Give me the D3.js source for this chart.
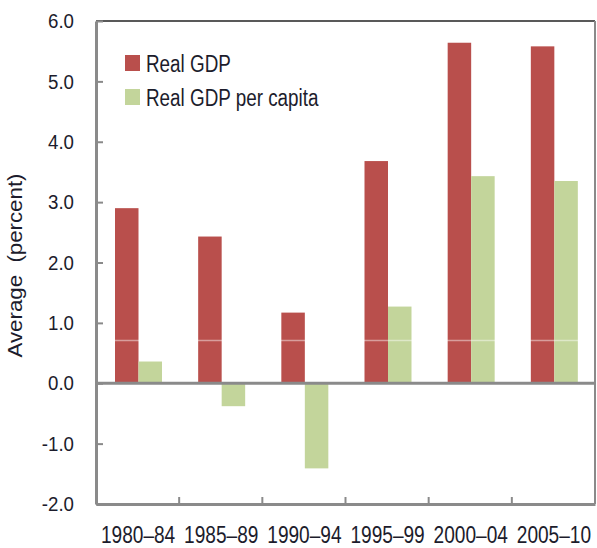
<!DOCTYPE html>
<html>
<head>
<meta charset="utf-8">
<script src="https://cdn.jsdelivr.net/npm/d3@7"></script>
<style>
  body { margin: 0; background: #fff; }
  text { font-family: "Liberation Sans", Arial, sans-serif; fill: #1c1c2c; }
</style>
</head>
<body>
<div id="chart"></div>
<script>
// data
var periods = ["1980\u201384", "1985\u201389", "1990\u201394", "1995\u201399", "2000\u201304", "2005\u201310"];
var seriesNames = ["Real GDP", "Real GDP per capita"];
var realGdp = [2.9, 2.43, 1.17, 3.68, 5.64, 5.58];
var realGdpPerCapita = [0.36, -0.38, -1.41, 1.27, 3.43, 3.35];
var yTicks = [-2, -1, 0, 1, 2, 3, 4, 5, 6];
var colors = ["#b94f4c", "#c3d59b"];

var W = 597, H = 548;
var margin = { top: 21, right: 2, bottom: 44, left: 96 },
    width = W - margin.left - margin.right,
    height = H - margin.top - margin.bottom;

// the original font is narrower than anything installed, so squeeze the text sideways
function narrow(sel, k) {
    sel.each(function () {
        var t = d3.select(this);
        var x = +t.attr("x") || 0;
        t.attr("x", 0).attr("transform", "translate(" + x + ",0) scale(" + k + ",1)");
    });
}

var svg = d3.select("#chart")
    .append("svg")
    .attr("width", W)
    .attr("height", H)
    .append("g")
    .attr("transform", "translate(" + margin.left + "," + margin.top + ")");

var x0 = d3.scaleBand().domain(periods).range([0, width]);
var x1 = d3.scaleBand().domain(seriesNames).range([19, 66]);
var y = d3.scaleLinear().domain([-2, 6]).range([height, 0]);

// table built from the arrays
var rows = periods.map(function (p, i) {
    return { period: p, values: [realGdp[i], realGdpPerCapita[i]] };
});

// bars
var groups = svg.selectAll(".grp")
    .data(rows)
    .enter()
    .append("g")
    .attr("transform", function (d) { return "translate(" + x0(d.period) + ",0)"; });

groups.selectAll("rect")
    .data(function (d) { return d.values.map(function (v, j) { return { name: seriesNames[j], v: v, j: j }; }); })
    .enter()
    .append("rect")
    .attr("x", function (d) { return x1(d.name); })
    .attr("width", x1.bandwidth())
    .attr("y", function (d) { return y(Math.max(0, d.v)); })
    .attr("height", function (d) { return Math.abs(y(d.v) - y(0)); })
    .attr("fill", function (d) { return colors[d.j]; });

// faint light line seen across the bars
svg.append("line")
    .attr("x1", 0).attr("x2", width)
    .attr("y1", y(0.71)).attr("y2", y(0.71))
    .attr("stroke", "#fff").attr("stroke-opacity", 0.45).attr("stroke-width", 1.5);

// frame: top black, right grey
svg.append("line")
    .attr("x1", 0).attr("x2", width).attr("y1", 0).attr("y2", 0)
    .attr("stroke", "#222").attr("stroke-width", 1.5);
svg.append("line")
    .attr("x1", width).attr("x2", width).attr("y1", 0).attr("y2", height)
    .attr("stroke", "#8a8a8a").attr("stroke-width", 2);

// zero line
svg.append("line")
    .attr("x1", 0).attr("x2", width).attr("y1", y(0)).attr("y2", y(0))
    .attr("stroke", "#8a8a8a").attr("stroke-width", 3);

// y axis
var yAxis = svg.append("g")
    .call(d3.axisLeft(y).tickValues(yTicks)
        .tickFormat(function (d) { return d3.format(".1f")(d).replace("\u2212", "-"); })
        .tickSizeInner(-7).tickSizeOuter(0).tickPadding(22));
yAxis.select(".domain").attr("stroke", "#8a8a8a").attr("stroke-width", 3);
yAxis.selectAll(".tick line").attr("stroke", "#8a8a8a").attr("stroke-width", 2);
yAxis.selectAll(".tick text").attr("font-size", "21px").attr("fill", "#1c1c2c")
    .style("font-family", "'Liberation Sans', Arial, sans-serif")
    .call(narrow, 0.89);

// x axis along the bottom, ticks between the groups
var xAxis = svg.append("g")
    .attr("transform", "translate(0," + height + ")")
    .call(d3.axisBottom(x0).tickSize(0).tickPadding(23));
xAxis.select(".domain").attr("stroke", "#8a8a8a").attr("stroke-width", 3);
xAxis.selectAll(".tick text").attr("font-size", "23px").attr("fill", "#1c1c2c")
    .style("font-family", "'Liberation Sans', Arial, sans-serif")
    .attr("x", 0.5)
    .call(narrow, 0.83);
xAxis.selectAll(".sep")
    .data(periods.slice(1))
    .enter()
    .append("line")
    .attr("x1", function (d) { return x0(d); })
    .attr("x2", function (d) { return x0(d); })
    .attr("y1", 0).attr("y2", -7)
    .attr("stroke", "#8a8a8a").attr("stroke-width", 2);

// y axis title
svg.append("text")
    .attr("transform", "translate(" + (-74) + "," + (y(2) + 3) + ") rotate(-90)")
    .attr("text-anchor", "middle")
    .attr("font-size", "21px")
    .style("white-space", "pre")
    .attr("textLength", 184)
    .attr("lengthAdjust", "spacingAndGlyphs")
    .text("Average  (percent)");

// legend
var legend = svg.selectAll(".legend")
    .data(seriesNames)
    .enter()
    .append("g")
    .attr("transform", function (d, i) { return "translate(29," + (34 + i * 34) + ")"; });
legend.append("rect")
    .attr("width", 15).attr("height", 16)
    .attr("fill", function (d, i) { return colors[i]; });
legend.append("text")
    .attr("x", 21).attr("y", 16.5)
    .attr("font-size", "23px")
    .text(function (d) { return d; })
    .call(narrow, 0.82);
</script>
</body>
</html>
